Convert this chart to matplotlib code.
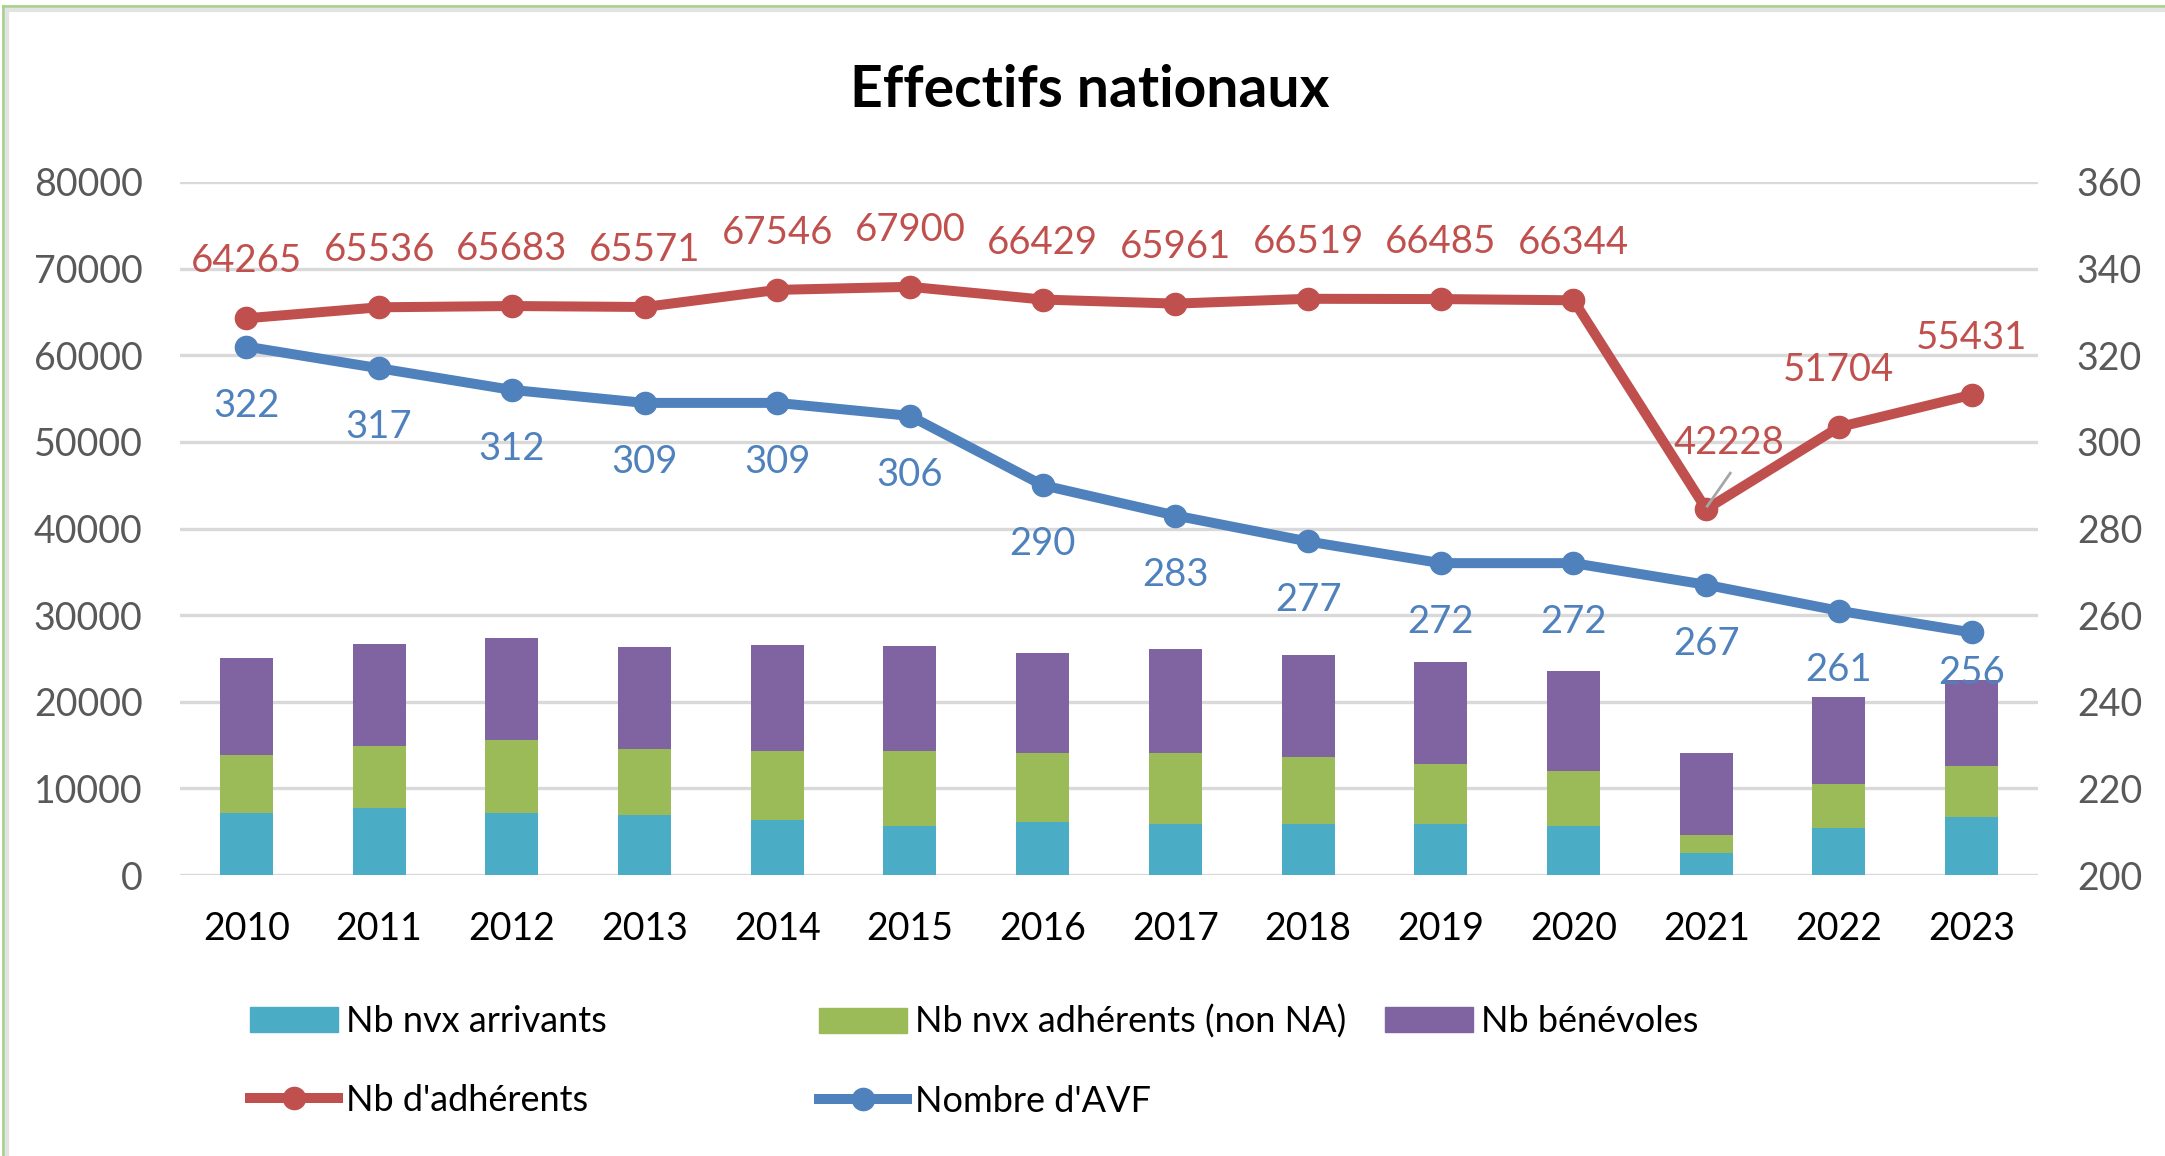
import matplotlib
matplotlib.use("Agg")
import matplotlib.pyplot as plt
from matplotlib.lines import Line2D
from matplotlib.patches import Patch
import numpy as np

plt.rcParams['font.family'] = ['Lato', 'DejaVu Sans']

years = ['2010', '2011', '2012', '2013', '2014', '2015', '2016', '2017',
         '2018', '2019', '2020', '2021', '2022', '2023']
nvx_arrivants = [7200, 7700, 7200, 6900, 6400, 5650, 6150, 5900, 5900, 5900, 5650, 2570, 5400, 6700]
nvx_adherents_non_na = [6650, 7150, 8400, 7650, 7900, 8650, 7920, 8170, 7690, 6960, 6380, 2040, 5150, 5830]
benevoles = [11220, 11770, 11800, 11800, 12300, 12080, 11540, 12040, 11770, 11770, 11540, 9500, 9970, 9960]
nb_adherents = [64265, 65536, 65683, 65571, 67546, 67900, 66429, 65961, 66519, 66485, 66344, 42228, 51704, 55431]
nombre_avf = [322, 317, 312, 309, 309, 306, 290, 283, 277, 272, 272, 267, 261, 256]

left_ticks = [0, 10000, 20000, 30000, 40000, 50000, 60000, 70000, 80000]
right_ticks = [200, 220, 240, 260, 280, 300, 320, 340, 360]

C_TEAL = '#4BACC6'
C_GREEN = '#9BBB59'
C_PURPLE = '#8064A2'
C_RED = '#C0504D'
C_BLUE = '#4F81BD'
C_GRID = '#D9D9D9'
C_TICK = '#595959'

W, H = 2165, 1156
fig = plt.figure(figsize=(W / 100, H / 100), dpi=100)
fig.patch.set_facecolor('white')

ax = fig.add_axes([180 / W, 1 - 875 / H, (2038 - 180) / W, (875 - 182) / H])
ax2 = ax.twinx()

x = np.arange(len(years))
bw = 0.40
a1 = np.array(nvx_arrivants)
a2 = np.array(nvx_adherents_non_na)
a3 = np.array(benevoles)
ax.bar(x, a1, bw, color=C_TEAL, zorder=2)
ax.bar(x, a2, bw, bottom=a1, color=C_GREEN, zorder=2)
ax.bar(x, a3, bw, bottom=a1 + a2, color=C_PURPLE, zorder=2)

ax.plot(x, nb_adherents, color=C_RED, lw=7.2, marker='o', ms=16, zorder=4,
        solid_capstyle='round')
ax2.plot(x, nombre_avf, color=C_BLUE, lw=7.2, marker='o', ms=16, zorder=4,
         solid_capstyle='round')

ax.set_xlim(-0.5, len(years) - 0.5)
ax.set_ylim(0, 80000)
ax2.set_ylim(200, 360)
ax.set_yticks(left_ticks)
ax.set_yticklabels([str(v) for v in left_ticks])
ax2.set_yticks(right_ticks)
ax2.set_yticklabels([str(v) for v in right_ticks])
ax.set_xticks(x)
ax.set_xticklabels(years)

for a in (ax, ax2):
    for s in a.spines.values():
        s.set_visible(False)
ax.tick_params(axis='y', length=0, pad=27, labelsize=27, labelcolor=C_TICK)
ax2.tick_params(axis='y', length=0, pad=28, labelsize=27, labelcolor=C_TICK)
ax.tick_params(axis='x', length=0, pad=26, labelsize=27, labelcolor='#000000')
ax.yaxis.grid(True, color=C_GRID, lw=2.4, zorder=0)
ax.set_axisbelow(True)
ax2.patch.set_visible(False)

# data labels
red_adjust = {11: (23, 66)}
for i, v in enumerate(nb_adherents):
    dx, dy = red_adjust.get(i, (0, 57))
    ax.annotate(str(v), (x[i], v), xytext=(dx, dy), textcoords='offset pixels',
                ha='center', va='center', fontsize=27.5, color=C_RED, zorder=6)
# leader line for displaced label
i = 11
p0 = ax.transData.transform((x[i], nb_adherents[i]))
ax.add_artist(Line2D([p0[0] + 1, p0[0] + 24], [p0[1] + 3, p0[1] + 36],
                     transform=None, color='#A6A6A6', lw=2, zorder=7))

blue_adjust = {13: (0, -41)}
for i, v in enumerate(nombre_avf):
    dx, dy = blue_adjust.get(i, (0, -59))
    ax2.annotate(str(v), (x[i], v), xytext=(dx, dy), textcoords='offset pixels',
                 ha='center', va='center', fontsize=27.5, color=C_BLUE, zorder=6)

# title
fig.text(1090 / W, 1 - 107 / H, 'Effectifs nationaux', ha='center', va='baseline',
         fontsize=41, fontweight='bold', color='#000000')

# legend (three columns, row-wise like the original)
leg_kw = dict(loc='upper left', frameon=False, fontsize=26, handlelength=2.44,
              handletextpad=0.23, labelspacing=1.27, borderpad=0, borderaxespad=0,
              labelcolor='#000000')
h_arr = Patch(color=C_TEAL)
h_non = Patch(color=C_GREEN)
h_ben = Patch(color=C_PURPLE)
h_adh = Line2D([], [], color=C_RED, lw=7.2, marker='o', ms=16)
h_avf = Line2D([], [], color=C_BLUE, lw=7.2, marker='o', ms=16)
top_y = 1 - 1005 / H
fig.legend([h_arr, h_adh], ['Nb nvx arrivants', "Nb d'adhérents"],
           bbox_to_anchor=(250 / W, top_y), **leg_kw)
fig.legend([h_non, h_avf], ['Nb nvx adhérents (non NA)', "Nombre d'AVF"],
           bbox_to_anchor=(819 / W, top_y), **leg_kw)
fig.legend([h_ben], ['Nb bénévoles'],
           bbox_to_anchor=(1385 / W, top_y), **leg_kw)

# outer frame (left and top edges visible in the original)
fig.add_artist(Line2D([3 / W, 3 / W], [0, 1 - 6 / H], transform=fig.transFigure,
                      color='#A9D18E', lw=2))
fig.add_artist(Line2D([3 / W, 1], [1 - 6 / H, 1 - 6 / H], transform=fig.transFigure,
                      color='#A9D18E', lw=2))
fig.add_artist(Line2D([7 / W, 7 / W], [0, 1 - 10 / H], transform=fig.transFigure,
                      color='#E3E3E3', lw=3))
fig.add_artist(Line2D([7 / W, 1], [1 - 10 / H, 1 - 10 / H], transform=fig.transFigure,
                      color='#E3E3E3', lw=3))

fig.savefig('out.png', dpi=100)
